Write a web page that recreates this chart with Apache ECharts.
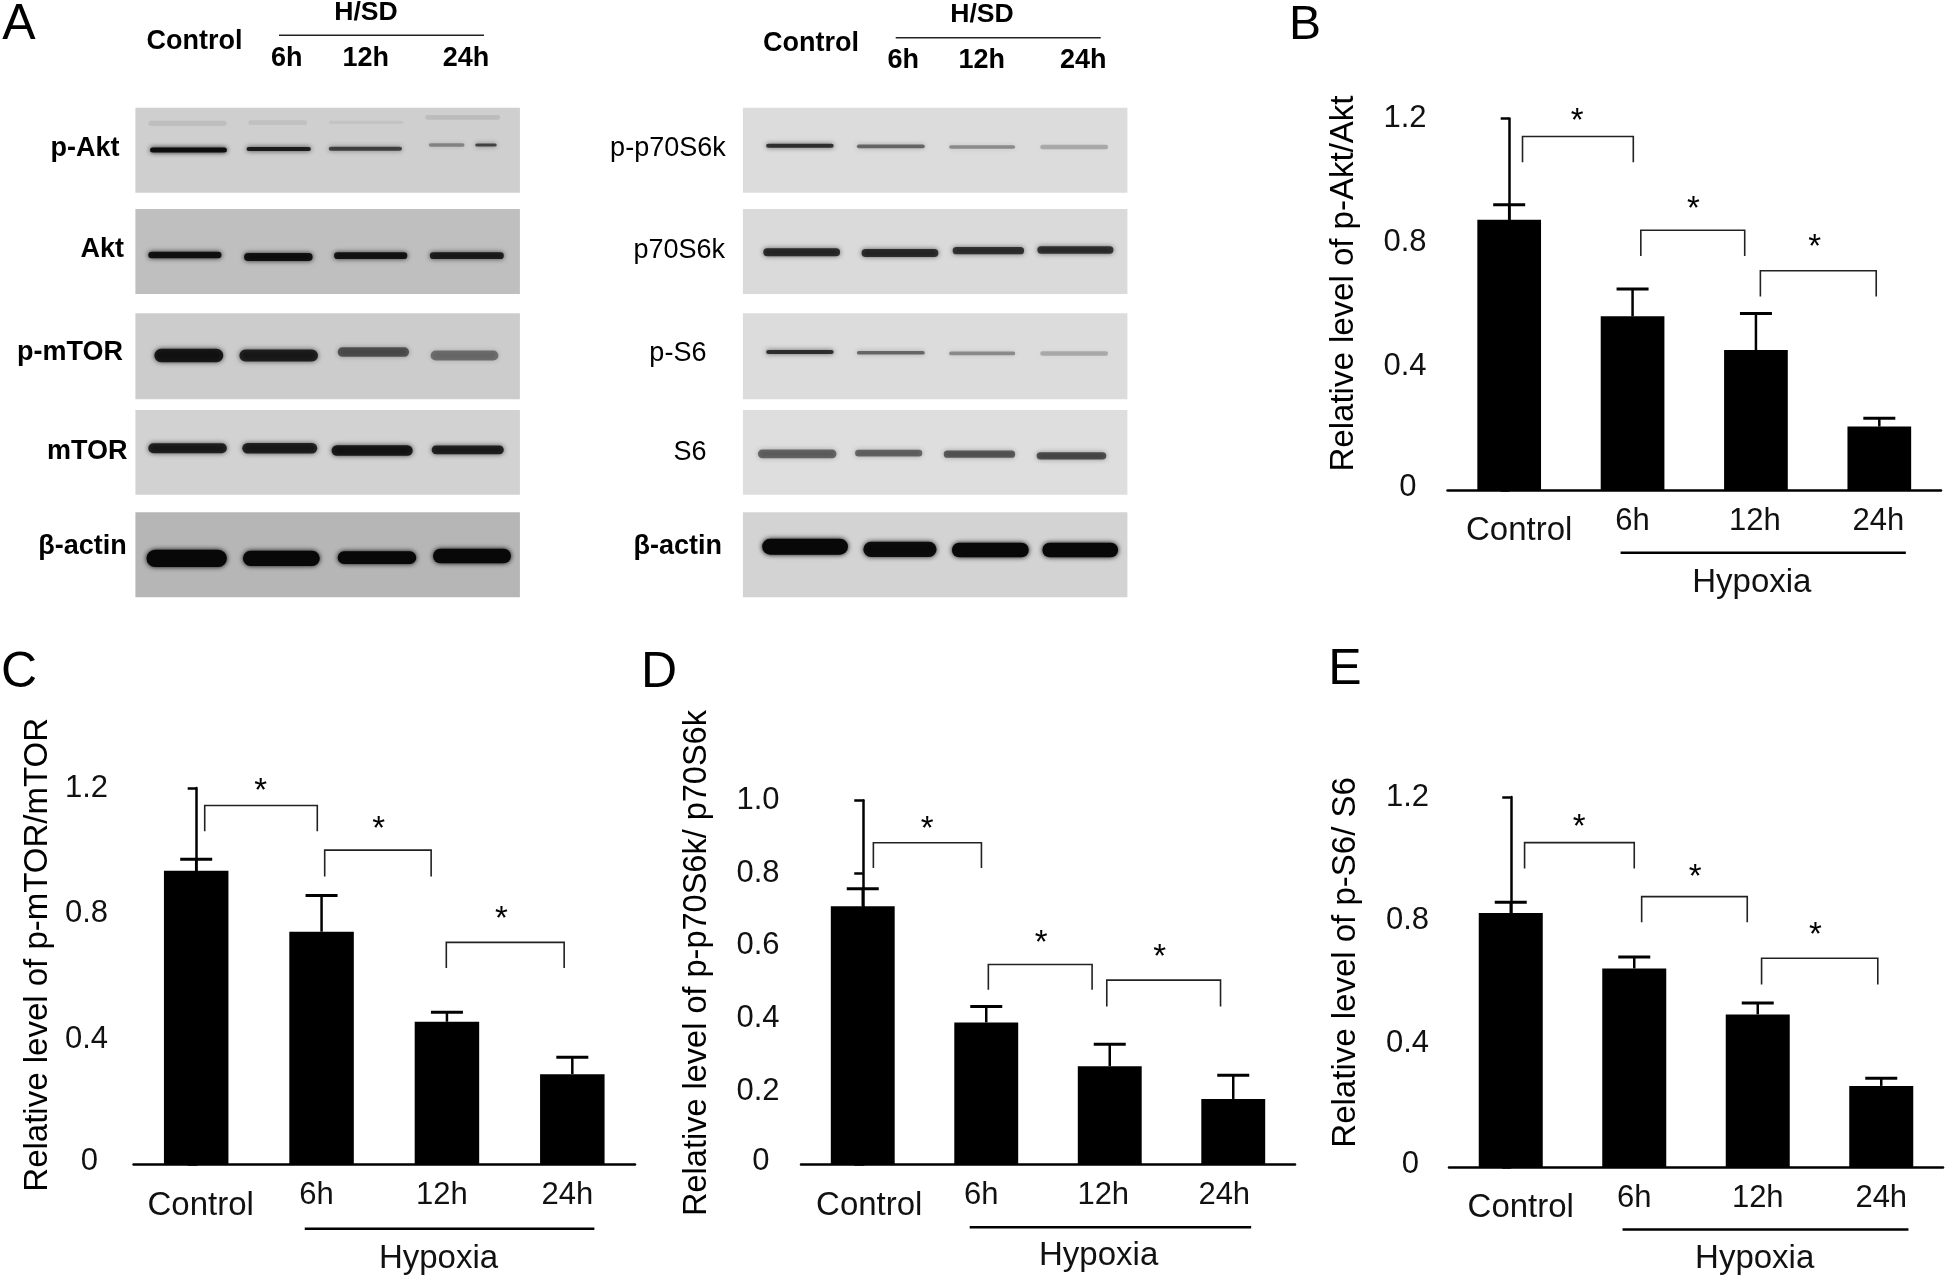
<!DOCTYPE html>
<html>
<head>
<meta charset="utf-8">
<title>Western blots and relative levels</title>
<style>
  html, body { margin: 0; padding: 0; background: #ffffff; }
  #main { width: 1946px; height: 1277px; }
</style>
<script src="https://cdn.jsdelivr.net/npm/echarts@6/dist/echarts.min.js"></script>
</head>
<body>
<div id="main"></div>
<script>
const categories = ['Control', '6h', '12h', '24h'];

// bar heights and upper end of the error bars
const meansB = [0.873, 0.561, 0.452, 0.205];
const errTopsB = [0.921, 0.649, 0.570, 0.232];
const meansC = [0.936, 0.742, 0.455, 0.288];
const errTopsC = [0.973, 0.857, 0.485, 0.342];
const meansD = [0.709, 0.390, 0.270, 0.180];
const errTopsD = [0.757, 0.434, 0.330, 0.245];
const meansE = [0.824, 0.644, 0.495, 0.263];
const errTopsE = [0.859, 0.681, 0.532, 0.288];

// significance brackets: from bar, to bar, top value, foot value
const bracketsB = [[0.108, 1.006, 1.142, 1.059], [1.067, 1.909, 0.839, 0.756], [2.036, 2.975, 0.708, 0.625]];
const bracketsC = [[0.068, 0.966, 1.144, 1.062], [1.025, 1.874, 1.002, 0.918], [1.995, 2.935, 0.708, 0.626]];
const bracketsD = [[0.086, 0.961, 0.883, 0.814], [1.017, 1.857, 0.549, 0.480], [1.976, 2.897, 0.506, 0.434]];
const bracketsE = [[0.112, 1.000, 1.052, 0.968], [1.060, 1.915, 0.877, 0.794], [2.031, 2.972, 0.677, 0.592]];
const starsB = [[0.552, 1.207], [1.494, 0.924], [2.477, 0.800]];
const starsC = [[0.514, 1.208], [1.455, 1.086], [2.434, 0.799]];
const starsD = [[0.522, 0.936], [1.444, 0.621], [2.405, 0.583]];
const starsE = [[0.555, 1.119], [1.493, 0.958], [2.467, 0.768]];

// blot bands: x from, x to, y centre, thickness, darkness (panel units 1076 x 255)
const bandsPAkt = [[36, 256, 47, 16, 0.08], [316, 481, 45, 14, 0.07], [541, 751, 44, 10, 0.05], [811, 1021, 29, 14, 0.09],
  [41, 256, 127, 15, 0.95], [311, 491, 124, 12, 0.85], [541, 746, 123, 12, 0.65], [821, 921, 112, 10, 0.35], [951, 1011, 112, 9, 0.65]];
const bandsAkt = [[36, 241, 138, 20, 0.9], [304, 496, 144, 24, 0.9], [556, 761, 140, 20, 0.88], [824, 1031, 140, 20, 0.82]];
const bandsPMtor = [[53, 246, 125, 40, 0.85], [291, 511, 125, 36, 0.8], [566, 766, 115, 28, 0.55], [826, 1016, 125, 30, 0.42]];
const bandsMtor = [[36, 256, 115, 30, 0.8], [299, 509, 115, 32, 0.8], [549, 776, 122, 32, 0.85], [829, 1031, 120, 26, 0.8]];
const bandsActinL = [[31, 256, 138, 52, 1], [301, 516, 138, 46, 1], [566, 786, 136, 38, 1], [833, 1051, 131, 44, 1]];
const bandsPP70 = [[65, 254, 114, 12, 0.75], [319, 509, 116, 11, 0.5], [577, 762, 118, 11, 0.35], [832, 1022, 118, 13, 0.22]];
const bandsP70 = [[57, 272, 130, 24, 0.75], [332, 547, 132, 24, 0.75], [587, 787, 125, 22, 0.72], [824, 1037, 123, 22, 0.72]];
const bandsPS6 = [[65, 254, 115, 12, 0.75], [319, 509, 117, 11, 0.5], [577, 762, 119, 11, 0.35], [832, 1022, 119, 13, 0.22]];
const bandsS6 = [[42, 262, 132, 26, 0.5], [314, 502, 130, 20, 0.5], [562, 762, 133, 22, 0.55], [822, 1017, 138, 22, 0.6]];
const bandsActinR = [[54, 294, 103, 48, 1], [337, 542, 111, 46, 0.95], [585, 800, 113, 44, 1], [838, 1050, 113, 44, 1]];

const FONT = '"Liberation Sans", Arial, sans-serif';
const barPanels = [
  { means: meansB, tops: errTopsB, brackets: bracketsB, stars: starsB, left: 1447.5, right: 1941, top: 118.5, bottom: 490,
    max: 1.2, step: 0.4, barWidth: 63.7, margin: 21, shifts: [10, 0, -1, -1], line: [0.903, 3.215, -0.203], hyp: [1.967, -0.300] },
  { means: meansC, tops: errTopsC, brackets: bracketsC, stars: starsC, left: 133.5, right: 635, top: 788, bottom: 1164.5,
    max: 1.2, step: 0.4, barWidth: 64.5, margin: 25.5, shifts: [4.5, -5, -5, -5], line: [0.866, 3.176, -0.205], hyp: [1.933, -0.300] },
  { means: meansD, tops: errTopsD, brackets: bracketsD, stars: starsD, left: 801, right: 1295, top: 800.2, bottom: 1164.5,
    max: 1.0, step: 0.2, barWidth: 63.9, margin: 21.5, shifts: [6.5, -5, -6.5, -9], line: [0.866, 3.145, -0.172], hyp: [1.910, -0.252] },
  { means: meansE, tops: errTopsE, brackets: bracketsE, stars: starsE, left: 1449, right: 1943, top: 797, bottom: 1167,
    max: 1.2, step: 0.4, barWidth: 64, margin: 20, shifts: [10, 0, 0, 0], line: [0.905, 3.220, -0.203], hyp: [1.975, -0.299] }
];
const blotPanels = [
  { bands: bandsPAkt, left: 135.4, top: 107.7, bottom: 192.7, fill: '#cfcfcf' },
  { bands: bandsAkt, left: 135.4, top: 209, bottom: 294, fill: '#bfbfbf' },
  { bands: bandsPMtor, left: 135.4, top: 313.3, bottom: 399.3, fill: '#cccccc' },
  { bands: bandsMtor, left: 135.4, top: 410, bottom: 494.7, fill: '#d2d2d2' },
  { bands: bandsActinL, left: 135.4, top: 512.3, bottom: 597.3, fill: '#b6b6b6' },
  { bands: bandsPP70, left: 742.9, top: 107.7, bottom: 192.7, fill: '#dcdcdc' },
  { bands: bandsP70, left: 742.9, top: 209, bottom: 294, fill: '#dadada' },
  { bands: bandsPS6, left: 742.9, top: 313.3, bottom: 399.3, fill: '#dcdcdc' },
  { bands: bandsS6, left: 742.9, top: 410, bottom: 494.7, fill: '#dedede' },
  { bands: bandsActinR, left: 742.9, top: 512.3, bottom: 597.3, fill: '#d3d3d3' }
];

const grids = [], xAxes = [], yAxes = [], series = [];

barPanels.forEach(function (p) {
  const g = grids.length;
  grids.push({ left: p.left, top: p.top, width: p.right - p.left, height: p.bottom - p.top });

  const rich = {};
  p.shifts.forEach(function (s, i) {
    rich['l' + i] = {
      fontFamily: FONT, fontSize: i === 0 ? 33 : 31, lineHeight: 34, color: '#111',
      padding: [i === 0 ? 20 : 0, s < 0 ? -2 * s : 0, 0, s > 0 ? 2 * s : 0]
    };
  });
  const catAxis = xAxes.length;
  xAxes.push({
    type: 'category', gridIndex: g, data: categories,
    axisLine: { onZero: false, lineStyle: { color: '#000', width: 2.5 } },
    axisTick: { show: false },
    axisLabel: {
      interval: 0, margin: 14, hideOverlap: false,
      formatter: function (v, i) { return '{l' + i + '|' + v + '}'; }, rich: rich
    }
  });
  // same span as the categories, bar i sits at i, for the annotations between bars
  const markAxis = xAxes.length;
  xAxes.push({ type: 'value', gridIndex: g, min: -0.5, max: 3.5, show: false });
  const yIdx = yAxes.length;
  yAxes.push({
    type: 'value', gridIndex: g, min: 0, max: p.max, interval: p.step,
    splitLine: { show: false },
    axisLine: { show: true, lineStyle: { color: '#000', width: 2.5 } },
    axisTick: { show: true, length: 8.5, lineStyle: { color: '#000', width: 2.5 } },
    axisLabel: {
      margin: p.margin,
      formatter: function (v) { return v === 0 ? '{zero|0}' : v.toFixed(1); },
      fontFamily: FONT, fontSize: 31, color: '#111',
      rich: { zero: { fontFamily: FONT, fontSize: 31, color: '#111', padding: [0, 10, 6, 0] } }
    }
  });

  series.push({
    type: 'bar', xAxisIndex: catAxis, yAxisIndex: yIdx, data: p.means, barWidth: p.barWidth,
    itemStyle: { color: '#000' }, silent: true
  });
  series.push({
    type: 'custom', xAxisIndex: catAxis, yAxisIndex: yIdx, silent: true,
    data: p.means.map(function (m, i) { return [i, m, p.tops[i]]; }),
    encode: { x: 0, y: [1, 2] },
    renderItem: function (params, api) {
      const a = api.coord([api.value(0), api.value(1)]);
      const b = api.coord([api.value(0), api.value(2)]);
      const st = { stroke: '#000', lineWidth: 2.5, fill: null };
      return {
        type: 'group', children: [
          { type: 'line', shape: { x1: a[0], y1: a[1], x2: b[0], y2: b[1] }, style: st },
          { type: 'line', shape: { x1: b[0] - 16, y1: b[1], x2: b[0] + 16, y2: b[1] }, style: { stroke: '#000', lineWidth: 3 } }
        ]
      };
    }
  });
  series.push({
    type: 'custom', xAxisIndex: markAxis, yAxisIndex: yIdx, silent: true,
    data: p.brackets,
    renderItem: function (params, api) {
      const x0 = api.value(0), x1 = api.value(1), t = api.value(2), f = api.value(3);
      return {
        type: 'polyline',
        shape: { points: [api.coord([x0, f]), api.coord([x0, t]), api.coord([x1, t]), api.coord([x1, f])] },
        style: { stroke: '#222', lineWidth: 1.6, fill: null }
      };
    }
  });
  series.push({
    type: 'custom', xAxisIndex: markAxis, yAxisIndex: yIdx, silent: true,
    data: p.stars,
    renderItem: function (params, api) {
      const c = api.coord([api.value(0), api.value(1)]);
      return {
        type: 'text',
        style: { text: '*', x: c[0], y: c[1] + 6, font: '33px ' + FONT, fill: '#000', textAlign: 'center', textVerticalAlign: 'middle' }
      };
    }
  });
  // the Hypoxia line and its caption under the last three bars
  series.push({
    type: 'custom', xAxisIndex: markAxis, yAxisIndex: yIdx, silent: true,
    data: [[p.line[0], p.line[1], p.line[2], p.hyp[0], p.hyp[1]]],
    renderItem: function (params, api) {
      const a = api.coord([api.value(0), api.value(2)]);
      const b = api.coord([api.value(1), api.value(2)]);
      const c = api.coord([api.value(3), api.value(4)]);
      return {
        type: 'group', children: [
          { type: 'line', shape: { x1: a[0], y1: a[1], x2: b[0], y2: b[1] }, style: { stroke: '#000', lineWidth: 2.5 } },
          { type: 'text', style: { text: 'Hypoxia', x: c[0], y: c[1], font: '33px ' + FONT, fill: '#111', textAlign: 'center', textVerticalAlign: 'middle' } }
        ]
      };
    }
  });
});

blotPanels.forEach(function (p) {
  const g = grids.length;
  grids.push({
    left: p.left, top: p.top, width: 384.5, height: p.bottom - p.top,
    show: true, backgroundColor: p.fill, borderWidth: 0
  });
  const xi = xAxes.length, yi = yAxes.length;
  xAxes.push({ type: 'value', gridIndex: g, min: 0, max: 1076, show: false });
  yAxes.push({ type: 'value', gridIndex: g, min: 0, max: 255, inverse: true, show: false });
  series.push({
    type: 'custom', xAxisIndex: xi, yAxisIndex: yi, silent: true, data: p.bands,
    renderItem: function (params, api) {
      const th = api.value(3);
      const a = api.coord([api.value(0), api.value(2) - th / 2]);
      const b = api.coord([api.value(1), api.value(2) + th / 2]);
      const col = 'rgba(8,8,8,' + api.value(4) + ')';
      return {
        type: 'rect',
        shape: { x: a[0], y: a[1], width: b[0] - a[0], height: b[1] - a[1], r: (b[1] - a[1]) / 2 },
        style: { fill: col, shadowBlur: 5, shadowColor: col }
      };
    }
  });
});

function label(text, x, y, size, weight, align, rotation) {
  return {
    type: 'text', x: x, y: y, rotation: rotation || 0, silent: true,
    style: {
      text: text, font: (weight || 'normal') + ' ' + size + 'px ' + FONT, fill: '#000',
      textAlign: align || 'center', textVerticalAlign: 'middle'
    }
  };
}
function rule(x1, x2, y) {
  return { type: 'line', silent: true, shape: { x1: x1, y1: y, x2: x2, y2: y }, style: { stroke: '#222', lineWidth: 1.6 } };
}

const graphics = [
  label('A', 19, 25, 50), label('B', 1305, 26, 48), label('C', 19, 673, 50),
  label('D', 659, 673, 50), label('E', 1345, 670, 50),

  label('Control', 194.6, 42, 27, 'bold'), label('H/SD', 366, 12.7, 26.6, 'bold'), rule(279, 484, 35.3),
  label('6h', 286.8, 58.3, 27, 'bold'), label('12h', 365.7, 58.3, 27, 'bold'), label('24h', 466, 58.3, 27, 'bold'),
  label('p-Akt', 119.6, 149, 27, 'bold', 'right'), label('Akt', 124, 250, 27, 'bold', 'right'),
  label('p-mTOR', 123, 353, 27, 'bold', 'right'), label('mTOR', 127.5, 451.7, 27, 'bold', 'right'),
  label('β-actin', 126.8, 547, 27, 'bold', 'right'),

  label('Control', 810.9, 44, 27, 'bold'), label('H/SD', 982, 15, 26.6, 'bold'), rule(895.7, 1100.7, 37.7),
  label('6h', 903.2, 60.7, 27, 'bold'), label('12h', 981.8, 60.7, 27, 'bold'), label('24h', 1083.2, 60.7, 27, 'bold'),
  label('p-p70S6k', 725.7, 149, 27, 'normal', 'right'), label('p70S6k', 725, 250.7, 27, 'normal', 'right'),
  label('p-S6', 706.4, 353.3, 27, 'normal', 'right'), label('S6', 706.4, 452.3, 27, 'normal', 'right'),
  label('β-actin', 722, 547, 27, 'bold', 'right'),

  label('Relative level of p-Akt/Akt', 1343.7, 283.5, 33, 'normal', 'center', Math.PI / 2),
  label('Relative level of p-mTOR/mTOR', 37.8, 954.8, 33, 'normal', 'center', Math.PI / 2),
  label('Relative level of p-p70S6k/ p70S6k', 697, 963, 32.5, 'normal', 'center', Math.PI / 2),
  label('Relative level of p-S6/ S6', 1345.8, 962.4, 33, 'normal', 'center', Math.PI / 2)
];

const chart = echarts.init(document.getElementById('main'), null, { renderer: 'canvas' });
chart.setOption({
  backgroundColor: '#ffffff',
  animation: false,
  tooltip: { show: false },
  grid: grids,
  xAxis: xAxes,
  yAxis: yAxes,
  series: series,
  graphic: { elements: graphics }
});
</script>
</body>
</html>
